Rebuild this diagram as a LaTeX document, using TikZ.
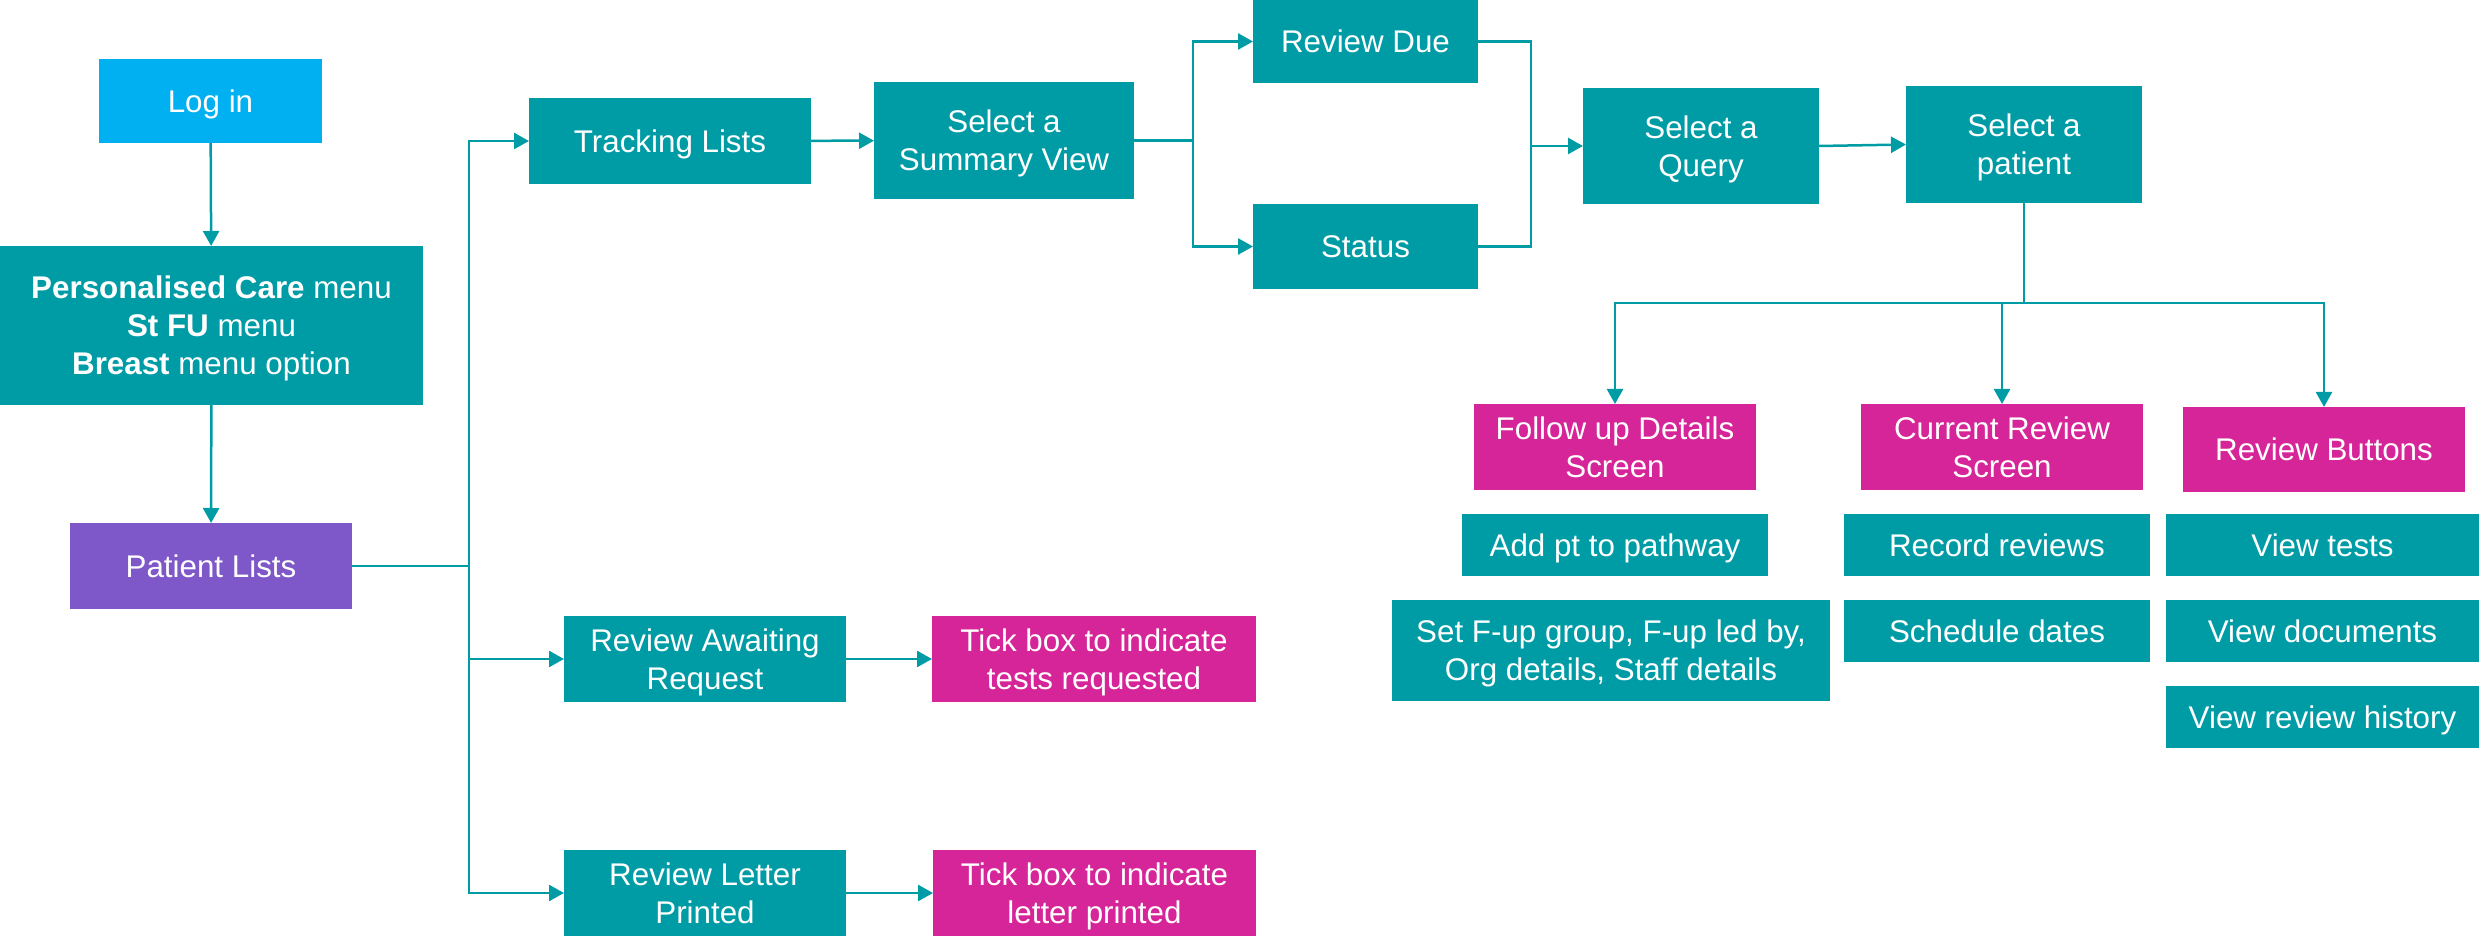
\documentclass[tikz,border=0pt]{standalone}
\usepackage{fontspec}
\setmainfont{Liberation Sans}
\usetikzlibrary{arrows.meta}

\definecolor{teal1}{HTML}{009CA6}
\definecolor{sky1}{HTML}{00B0F0}
\definecolor{violet1}{HTML}{7E57C8}
\definecolor{magenta1}{HTML}{D62598}

\tikzset{
  boxbase/.style={rectangle, inner sep=0pt, outer sep=0pt, text=white, align=center,
    text depth=0pt, font=\fontsize{9.4}{11.4}\selectfont},
  tealbox/.style={boxbase, fill=teal1},
  skybox/.style={boxbase, fill=sky1},
  violetbox/.style={boxbase, fill=violet1},
  pinkbox/.style={boxbase, fill=magenta1},
  link/.style={draw=teal1, line width=0.75pt},
  arr/.style={link, -{Triangle[length=4.5pt,width=4.8pt]}},
}

% box from its corners (x1,y1)-(x2,y2), given in pixel units
\newcommand\bx[7]{%
  \node[#6, minimum width={(#4-#2)*0.3pt}, minimum height={(#5-#3)*0.3pt}]
    (#1) at ({(#2+#4)/2},{(#3+#5)/2}) {#7};}

\begin{document}
\begin{tikzpicture}[x=0.3pt,y=-0.3pt]
\useasboundingbox (0,0) rectangle (2479,937);

% left column
\bx{login}{99}{59}{322}{143}{skybox}{Log in}
\bx{menu}{0}{246}{423}{405}{tealbox}%
  {\textbf{Personalised Care} menu\\\textbf{St FU} menu\\\textbf{Breast} menu option}
\bx{plist}{70}{523}{352}{609}{violetbox}{Patient Lists}

% tracking path
\bx{track}{529}{98}{811}{184}{tealbox}{Tracking Lists}
\bx{summary}{874}{82}{1134}{199}{tealbox}{Select a\\Summary View}
\bx{due}{1253}{0}{1478}{83}{tealbox}{Review Due}
\bx{status}{1253}{204}{1478}{289}{tealbox}{Status}
\bx{query}{1583}{88}{1819}{204}{tealbox}{Select a\\Query}
\bx{patient}{1906}{86}{2142}{203}{tealbox}{Select a\\patient}

% screens
\bx{fud}{1474}{404}{1756}{490}{pinkbox}{Follow up Details\\Screen}
\bx{crs}{1861}{404}{2143}{490}{pinkbox}{Current Review\\Screen}
\bx{rbtn}{2183}{407}{2465}{492}{pinkbox}{Review Buttons}

\bx{addpt}{1462}{514}{1768}{576}{tealbox}{Add pt to pathway}
\bx{setf}{1392}{600}{1830}{701}{tealbox}{Set F-up group, F-up led by,\\Org details, Staff details}
\bx{recrev}{1844}{514}{2150}{576}{tealbox}{Record reviews}
\bx{sched}{1844}{600}{2150}{662}{tealbox}{Schedule dates}
\bx{vtests}{2166}{514}{2479}{576}{tealbox}{View tests}
\bx{vdocs}{2166}{600}{2479}{662}{tealbox}{View documents}
\bx{vhist}{2166}{686}{2479}{748}{tealbox}{View review history}

% awaiting / letter paths
\bx{await}{564}{616}{846}{702}{tealbox}{Review Awaiting\\Request}
\bx{ticktests}{932}{616}{1256}{702}{pinkbox}{Tick box to indicate\\tests requested}
\bx{letter}{564}{850}{846}{936}{tealbox}{Review Letter\\Printed}
\bx{tickletter}{933}{850}{1256}{936}{pinkbox}{Tick box to indicate\\letter printed}

% junction points
\coordinate (trunk) at (469,566);
\coordinate (split) at (1193,140.5);
\coordinate (merge) at (1531,146);
\coordinate (fan) at (2024,303);

% connectors
\draw[arr] (login) -- (menu);
\draw[arr] (menu) -- (plist);
\draw[link] (plist.east) -- (trunk);
\draw[arr] (trunk) |- (track.west);
\draw[arr] (trunk) |- (await.west);
\draw[arr] (trunk) |- (letter.west);
\draw[arr] (track) -- (summary);
\draw[link] (summary.east) -- (split);
\draw[arr] (split) |- (due.west);
\draw[arr] (split) |- (status.west);
\draw[link] (due.east) -| (merge);
\draw[link] (status.east) -| (merge);
\draw[arr] (merge) -- (query.west);
\draw[arr] (query.east) -- (patient.west);
\draw[link] (patient.south) -- (fan);
\draw[arr] (fan) -| (fud.north);
\draw[arr] (fan) -| (crs.north);
\draw[arr] (fan) -| (rbtn.north);
\draw[arr] (await) -- (ticktests);
\draw[arr] (letter) -- (tickletter);
\end{tikzpicture}
\end{document}
